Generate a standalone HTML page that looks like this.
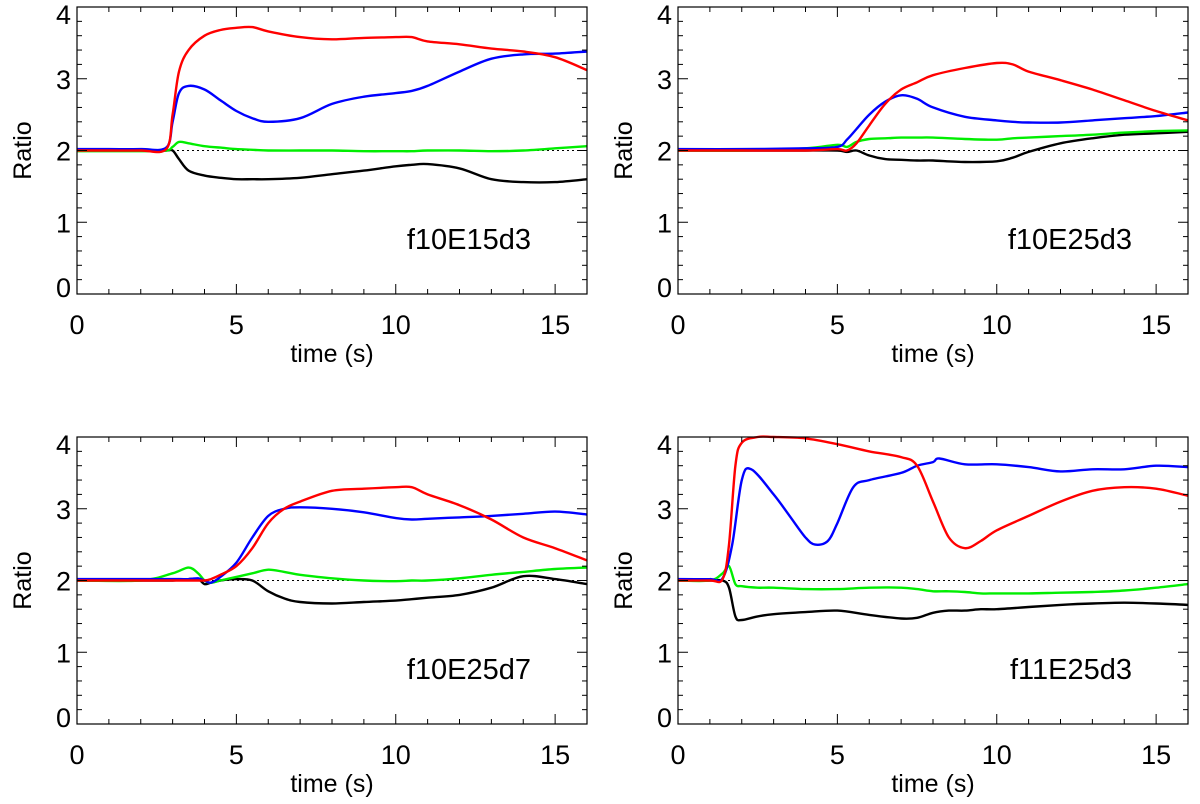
<!DOCTYPE html>
<html><head><meta charset="utf-8"><style>
body{margin:0;background:#fff;}
svg{display:block;font-family:"Liberation Sans",sans-serif;}
</style></head><body>
<svg id="chart" width="1200" height="804"></svg>
<script>
const xTicks=[0,5,10,15];
const yTicks=[0,1,2,3,4];
const panelLabels=["f10E15d3","f10E25d3","f10E25d7","f11E25d3"];

const p1Time=[0,1,2,2.8,3.0,3.2,3.5,4,4.5,5,5.5,6,7,8,9,10,10.5,11,12,13,14,15,16];
const p1Red=[2,2,2,2.02,2.5,3.1,3.4,3.6,3.68,3.71,3.72,3.66,3.58,3.55,3.57,3.58,3.58,3.52,3.48,3.42,3.38,3.3,3.12];
const p1Blue=[2.02,2.02,2.02,2.04,2.4,2.8,2.9,2.85,2.7,2.55,2.45,2.4,2.45,2.65,2.75,2.8,2.83,2.9,3.1,3.28,3.34,3.35,3.38];
const p1Green=[1.99,1.99,1.99,2.0,2.05,2.12,2.1,2.06,2.04,2.02,2.01,2.0,2.0,2.0,1.99,1.99,1.99,2.0,2.0,1.99,2.0,2.03,2.06];
const p1Black=[2,2,2,2,2.0,1.88,1.72,1.65,1.62,1.6,1.6,1.6,1.62,1.67,1.72,1.78,1.8,1.81,1.75,1.6,1.56,1.56,1.6];

const p2Time=[0,2,4,5,5.3,5.6,6,6.5,7,7.5,8,9,10,10.5,11,12,13,14,15,16];
const p2Red=[2,2,2,2.02,2.0,2.1,2.35,2.65,2.85,2.95,3.05,3.15,3.22,3.2,3.1,2.98,2.85,2.7,2.55,2.42];
const p2Blue=[2.02,2.02,2.03,2.05,2.15,2.3,2.5,2.68,2.77,2.72,2.6,2.47,2.42,2.4,2.39,2.39,2.42,2.45,2.48,2.53];
const p2Green=[2,2,2.03,2.08,2.05,2.12,2.16,2.17,2.18,2.18,2.18,2.16,2.15,2.17,2.18,2.2,2.22,2.25,2.27,2.28];
const p2Black=[2,2,2,2.0,1.98,2.0,1.93,1.88,1.87,1.86,1.86,1.84,1.85,1.9,1.98,2.1,2.17,2.22,2.24,2.26];

const p3Time=[0,2,3,3.5,3.8,4,4.2,4.5,5,5.5,6,6.5,7,8,9,10,10.5,11,12,13,14,15,16];
const p3Red=[2,2,2,2,2,2.0,2.02,2.08,2.2,2.45,2.8,3.0,3.1,3.25,3.28,3.3,3.3,3.2,3.05,2.85,2.6,2.45,2.28];
const p3Blue=[2.02,2.02,2.02,2.02,2.03,2.0,1.97,2.05,2.25,2.6,2.9,3.0,3.02,3.0,2.95,2.87,2.85,2.86,2.88,2.9,2.93,2.96,2.92];
const p3Green=[2,2,2.1,2.18,2.1,2.0,1.97,2.0,2.05,2.1,2.15,2.12,2.08,2.03,2.0,1.99,2.0,2.0,2.03,2.08,2.12,2.16,2.18];
const p3Black=[2,2,2,2.02,2.02,1.95,1.97,2.0,2.02,2.0,1.85,1.75,1.7,1.68,1.7,1.72,1.74,1.76,1.8,1.9,2.06,2.02,1.95];

const p4Time=[0,1,1.4,1.6,1.8,2,2.5,3,4,5,6,7,7.5,8,8.5,9,9.5,10,11,12,13,14,15,16];
const p4Red=[2,2,2.02,2.5,3.6,3.92,4.0,4.0,3.98,3.9,3.8,3.72,3.6,3.1,2.6,2.45,2.55,2.7,2.9,3.1,3.25,3.3,3.28,3.18];
const p4Green=[2,2,2.1,2.2,1.95,1.92,1.9,1.9,1.88,1.88,1.9,1.9,1.88,1.85,1.85,1.84,1.82,1.82,1.82,1.83,1.84,1.86,1.9,1.95];
const p4Black=[2,2,2.0,1.9,1.5,1.45,1.5,1.53,1.56,1.58,1.52,1.47,1.48,1.55,1.58,1.58,1.6,1.6,1.63,1.66,1.68,1.69,1.68,1.66];
const p4BlueTime=[0,1,1.4,1.7,2,2.3,3,3.5,4,4.3,4.7,5,5.5,6,7,7.5,8,8.2,9,10,11,12,13,14,15,16];
const p4Blue=[2.02,2.02,2.03,2.5,3.4,3.55,3.2,2.9,2.6,2.5,2.55,2.8,3.3,3.4,3.5,3.6,3.65,3.7,3.62,3.62,3.58,3.52,3.55,3.55,3.6,3.58];

const NS="http://www.w3.org/2000/svg";
const svg=document.getElementById('chart');
function mk(tag,attrs,parent){const e=document.createElementNS(NS,tag);for(const k in attrs)e.setAttribute(k,attrs[k]);(parent||svg).appendChild(e);return e;}

const panels=[
 {x0:77,y0:7,t:[p1Time,p1Time,p1Time,p1Time],s:[p1Black,p1Green,p1Blue,p1Red]},
 {x0:678,y0:7,t:[p2Time,p2Time,p2Time,p2Time],s:[p2Black,p2Green,p2Blue,p2Red]},
 {x0:77,y0:437,t:[p3Time,p3Time,p3Time,p3Time],s:[p3Black,p3Green,p3Blue,p3Red]},
 {x0:678,y0:437,t:[p4Time,p4Time,p4BlueTime,p4Time],s:[p4Black,p4Green,p4Blue,p4Red]}
];
const colors=["#000000","#00ee00","#0000ff","#ff0000"];
const names=["black","green","blue","red"];
const W=510,H=287;

function smooth(pts){
 let d='M'+pts[0][0].toFixed(1)+','+pts[0][1].toFixed(1);
 for(let i=0;i<pts.length-1;i++){
  const p0=pts[i-1]||pts[i],p1=pts[i],p2=pts[i+1],p3=pts[i+2]||p2;
  const c1x=p1[0]+(p2[0]-p0[0])/6,c1y=p1[1]+(p2[1]-p0[1])/6;
  const c2x=p2[0]-(p3[0]-p1[0])/6,c2y=p2[1]-(p3[1]-p1[1])/6;
  d+='C'+c1x.toFixed(1)+','+c1y.toFixed(1)+' '+c2x.toFixed(1)+','+c2y.toFixed(1)+' '+p2[0].toFixed(1)+','+p2[1].toFixed(1);
 }
 return d;
}

panels.forEach((p,pi)=>{
 const g=mk('g',{});
 
 
 const xs=v=>p.x0+v/16*W;
 const ys=v=>p.y0+H-v/4*H;
 const ref=mk('line',{x1:p.x0,x2:p.x0+W,y1:ys(2),y2:ys(2),stroke:'#000','stroke-width':1,'stroke-dasharray':'2,3'},g);
 
 
 p.s.forEach((vals,si)=>{
  const tt=p.t[si];
  const pts=vals.map((v,i)=>[xs(tt[i]),ys(v)]);
  const path=mk('path',{d:smooth(pts),fill:'none',stroke:colors[si],'stroke-width':2.4,'stroke-linejoin':'round'},g);
  
  
 });
 const fr=mk('rect',{x:p.x0,y:p.y0,width:W,height:H,fill:'none',stroke:'#000','stroke-width':1.2},g);
 
 
 for(let v=0;v<=16;v++){
  const L=v%5===0?10:5;
  mk('line',{x1:xs(v),x2:xs(v),y1:p.y0+H,y2:p.y0+H-L,stroke:'#000','stroke-width':1},g);
  mk('line',{x1:xs(v),x2:xs(v),y1:p.y0,y2:p.y0+L,stroke:'#000','stroke-width':1},g);
 }
 for(let k=0;k<=20;k++){
  const v=k*0.2;const L=k%5===0?10:5;
  mk('line',{x1:p.x0,x2:p.x0+L,y1:ys(v),y2:ys(v),stroke:'#000','stroke-width':1},g);
  mk('line',{x1:p.x0+W,x2:p.x0+W-L,y1:ys(v),y2:ys(v),stroke:'#000','stroke-width':1},g);
 }
 xTicks.forEach(v=>{
  const t=mk('text',{x:xs(v),y:p.y0+H+40,'text-anchor':'middle','font-size':27},g);
  t.textContent=v;
  
  
 });
 yTicks.forEach(v=>{
  const t=mk('text',{x:p.x0-6,y:Math.min(Math.max(ys(v)+10,p.y0+17),p.y0+H+3),'text-anchor':'end','font-size':27},g);
  t.textContent=v;
  
  
 });
 const xt=mk('text',{x:p.x0+W/2,y:p.y0+H+68,'text-anchor':'middle','font-size':25},g);
 xt.textContent='time (s)';
 
 
 const yt=mk('text',{x:p.x0-46,y:p.y0+H/2,'text-anchor':'middle','font-size':25,transform:'rotate(-90 '+(p.x0-46)+' '+(p.y0+H/2)+')'},g);
 yt.textContent='Ratio';
 
 
 const lb=mk('text',{x:p.x0+W-56,y:p.y0+H-45,'text-anchor':'end','font-size':29},g);
 lb.textContent=panelLabels[pi];
 
 
});
</script>
</body></html>
